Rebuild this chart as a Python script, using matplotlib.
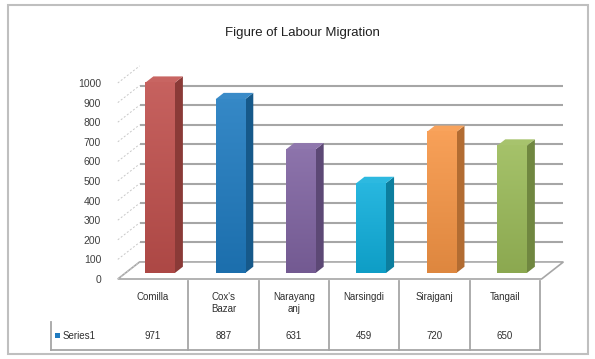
import numpy as np
import matplotlib
matplotlib.use('Agg')
import matplotlib.pyplot as plt
import matplotlib.transforms as mtransforms
from matplotlib.patches import Polygon, Rectangle
from matplotlib.colors import to_rgb

title = "Figure of Labour Migration"
districts = ["Comilla", "Cox's\nBazar", "Narayang\nanj", "Narsingdi", "Sirajganj", "Tangail"]
migrants = [971, 887, 631, 459, 720, 650]
series_name = "Series1"
bar_colors = ["#C0504D", "#1F7BC0", "#8064A2", "#10AFDC", "#F79646", "#9BBB59"]
yticks = list(range(0, 1001, 100))

W, H = 595, 359
fig = plt.figure(figsize=(W / 100, H / 100), dpi=100)
fig.patch.set_facecolor("white")
plt.rcParams['font.family'] = ['Liberation Sans', 'DejaVu Sans']

def fx(p):
    return p / W

def fy(p):
    return 1 - p / H

# plot area: x in category units, y in value units (front plane)
ax = fig.add_axes([fx(117.8), fy(279), fx(447), 196 / H])
xlim = (-0.6, 5.75)
ylim = (0, 1000)
ax.set_facecolor("none")
for s in ax.spines.values():
    s.set_visible(False)

# depth of the 3d box (projection offset)
DX, DY = 0.31, 87
f_front, f_back = 0.35, 0.72
bw = 0.42

# floor
floor = Polygon([(-0.6, 0), (5.42, 0), (5.42 + DX, DY), (-0.6 + DX, DY)],
                closed=True, facecolor="white", edgecolor="#A6A6A6", lw=1.2, zorder=1)
ax.add_patch(floor)

# side wall dashed lines
for v in yticks:
    ax.plot([-0.6, -0.6 + DX], [v, v + DY], ls=(0, (2, 2)), color="#C8C8C8", lw=0.7, zorder=1)

# back wall gridlines
for v in yticks[1:-1]:
    ax.plot([-0.6 + DX, 5.42 + DX], [v + DY, v + DY], color="#A6A6A6", lw=1.5,
            solid_capstyle="butt", zorder=1)

def shade(c, k):
    r = np.array(to_rgb(c))
    if k >= 1:
        return tuple(r + (1 - r) * (k - 1))
    return tuple(r * k)

grad = np.linspace(0, 1, 64).reshape(-1, 1)
for i, (v, c) in enumerate(zip(migrants, bar_colors)):
    x0 = i - bw / 2
    y0 = f_front * DY
    ddx = (f_back - f_front) * DX
    ddy = (f_back - f_front) * DY
    # side face
    side = Polygon([(x0 + bw, y0), (x0 + bw + ddx, y0 + ddy), (x0 + bw + ddx, y0 + ddy + v),
                    (x0 + bw, y0 + v)], closed=True, facecolor=shade(c, 0.72),
                   edgecolor="none", zorder=3)
    ax.add_patch(side)
    # top face
    top = Polygon([(x0, y0 + v), (x0 + bw, y0 + v), (x0 + bw + ddx, y0 + ddy + v),
                   (x0 + ddx, y0 + ddy + v)], closed=True, facecolor=shade(c, 1.12),
                  edgecolor="none", zorder=3)
    ax.add_patch(top)
    # front face with gradient
    c1 = np.array(shade(c, 1.1))
    c2 = np.array(shade(c, 0.9))
    img = c2[None, None, :] * (1 - grad[:, :, None]) + c1[None, None, :] * grad[:, :, None]
    im = ax.imshow(img, extent=(x0, x0 + bw, y0, y0 + v), origin="lower",
                   aspect="auto", zorder=4, interpolation="bilinear")
    rect = Rectangle((x0, y0), bw, v, transform=ax.transData, facecolor="none", edgecolor="none")
    ax.add_patch(rect)
    im.set_clip_path(rect)

ax.set_xlim(*xlim)
ax.set_ylim(*ylim)
ax.set_xticks([])
ax.set_yticks(yticks)
ax.set_yticklabels([str(t) for t in yticks], fontsize=7.5, color="#404040")
ax.tick_params(axis="y", length=0, pad=12)
for a in ax.get_children():
    if hasattr(a, "set_clip_on"):
        a.set_clip_on(False)

# title
fig.text(fx(302), fy(33), title, ha="center", va="center", fontsize=9.5, color="#202020")

# data table
tr = mtransforms.blended_transform_factory(ax.transData, fig.transFigure)
line_c = "#A6A6A6"
bounds = [i + 0.4 for i in range(len(districts))]
for b in bounds:
    fig.add_artist(plt.Line2D([b, b], [fy(281), fy(350)], transform=tr, color=line_c, lw=1.3))
ax_left = ax.transData.inverted().transform(fig.transFigure.transform((fx(51), 0)))[0]
fig.add_artist(plt.Line2D([ax_left, bounds[-1]], [fy(350), fy(350)], transform=tr,
                          color=line_c, lw=1.3))
fig.add_artist(plt.Line2D([fx(51), fx(51)], [fy(322), fy(350)], transform=fig.transFigure,
                          color=line_c, lw=1.3))
for i, (d, v) in enumerate(zip(districts, migrants)):
    fig.text(i - 0.1, fy(292), d, transform=tr, ha="center", va="top", fontsize=7,
             color="#303030", linespacing=1.3)
    fig.text(i - 0.1, fy(336), str(v), transform=tr, ha="center", va="center", fontsize=7,
             color="#303030")
fig.add_artist(Rectangle((fx(55), fy(338)), fx(5), 5 / H, transform=fig.transFigure,
                         facecolor=bar_colors[1], edgecolor="none"))
fig.text(fx(63), fy(336), series_name, ha="left", va="center", fontsize=7, color="#303030")

# outer frame
fig.add_artist(Rectangle((fx(8), fy(354)), fx(580), 349 / H, transform=fig.transFigure,
                         facecolor="none", edgecolor="#BFBFBF", lw=1.5))

fig.savefig("out.png", dpi=100)
